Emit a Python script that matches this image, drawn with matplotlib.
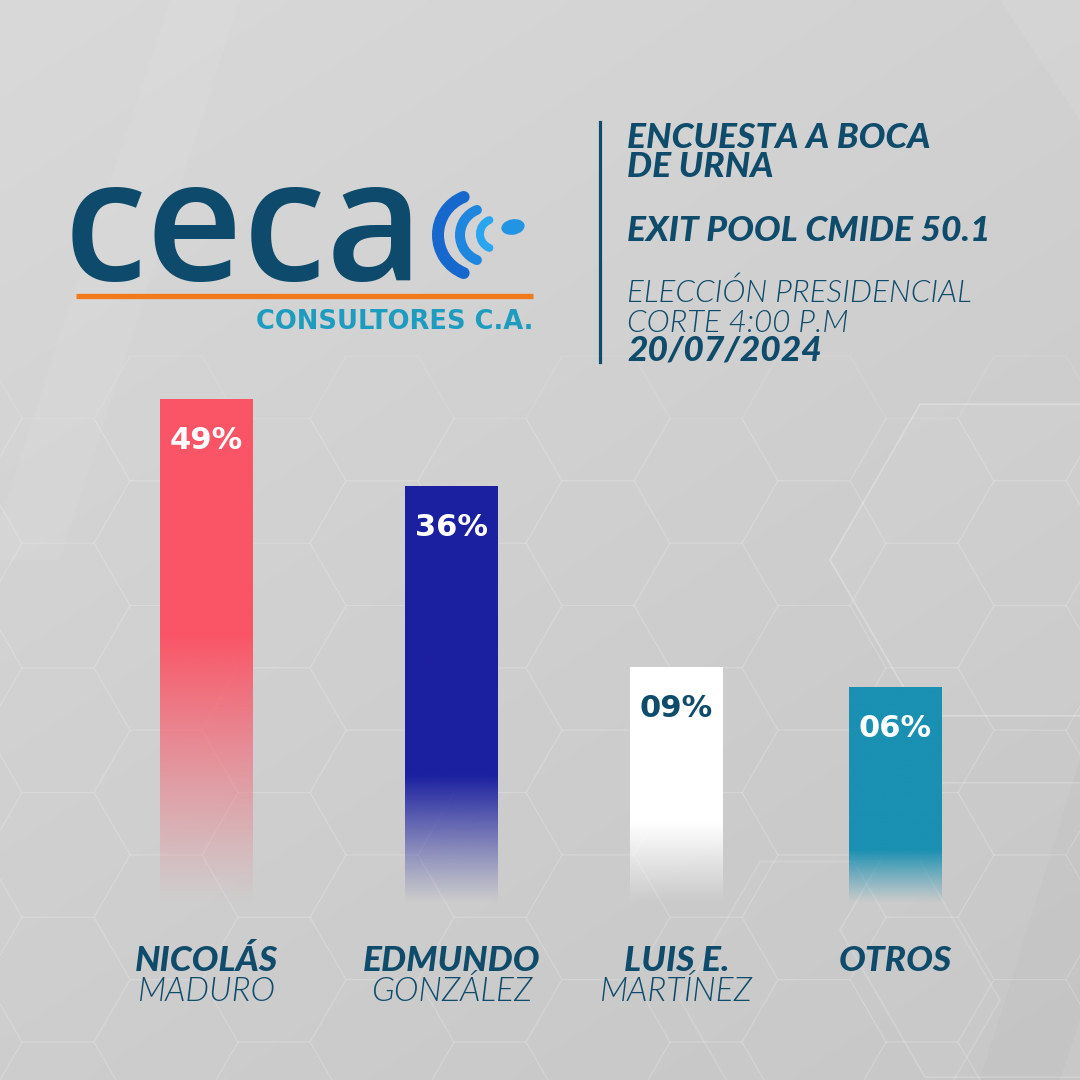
import numpy as np
import matplotlib
matplotlib.use("Agg")
import matplotlib.pyplot as plt
from matplotlib.patches import Arc, Ellipse, RegularPolygon, Polygon
import matplotlib.colors as mcolors

# ---------------- data ----------------
first_names = ["NICOLÁS", "EDMUNDO", "LUIS E.", "OTROS"]
last_names = ["MADURO", "GONZÁLEZ", "MARTÍNEZ", ""]
values = [49, 36, 9, 6]
title_lines = ["ENCUESTA A BOCA", "DE URNA"]
subtitle = "EXIT POOL CMIDE 50.1"
info_lines = ["ELECCIÓN PRESIDENCIAL", "CORTE 4:00 P.M"]
date_text = "20/07/2024"
logo_text = "ceca"
logo_sub = "CONSULTORES C.A."

# ---------------- style / layout ----------------
bar_colors = ["#fa5566", "#1b20a0", "#ffffff", "#1a90b2"]
label_colors = ["#ffffff", "#ffffff", "#0f4b6b", "#ffffff"]
bar_x = [206.5, 451.5, 676.5, 895.5]
bar_w = 93
fade_len = [40, 19, 12, 8]
dark = "#0f4b6b"
FONT = ["Lato", "DejaVu Sans"]

W = H = 1080
fig = plt.figure(figsize=(10.8, 10.8), dpi=100)

# background
bg = fig.add_axes([0, 0, 1, 1])
bg.set_xlim(0, W)
bg.set_ylim(H, 0)
bg.axis("off")
yy, xx = np.mgrid[0:1:200j, 0:1:200j]
t = np.clip(0.6 * yy + 0.4 * xx, 0, 1)
c0 = np.array(mcolors.to_rgb("#d9d9d9"))
c1 = np.array(mcolors.to_rgb("#c6c6c6"))
img = c0[None, None, :] * (1 - t[..., None]) + c1[None, None, :] * t[..., None]
bg.imshow(img, extent=(0, W, H, 0), aspect="auto", interpolation="bilinear", zorder=0)

# subtle diagonal streaks
for pts, col, a in [([(170, 0), (240, 0), (60, 560), (0, 560), (0, 520)], "white", 0.06),
                    ([(980, 1080), (1060, 1080), (1080, 1020), (1080, 760)], "#9a9a9a", 0.08),
                    ([(1000, 0), (1080, 0), (1080, 120)], "white", 0.08)]:
    bg.add_patch(Polygon(pts, closed=True, fc=col, ec="none", alpha=a, zorder=1))

# flat-top hexagon grid (lower part)
R = 72
hh = np.sqrt(3) * R
for col in range(-1, 11):
    cx = 58 + col * 1.5 * R
    for row in range(-1, 8):
        cy = 605.5 - 2 * hh + row * hh + (hh / 2 if col % 2 else 0)
        if cy < 400:
            continue
        bg.add_patch(RegularPolygon((cx, cy), 6, radius=R, orientation=np.pi / 6,
                                    fill=False, ec="white", lw=1.0, alpha=0.10, zorder=1))
# larger hexagons on the right
for (cx, cy, r, a) in [(1010, 560, 180, 0.26), (1010, 930, 170, 0.18), (840, 1000, 160, 0.15)]:
    bg.add_patch(RegularPolygon((cx, cy), 6, radius=r, orientation=np.pi / 6,
                                fill=True, fc="white", ec="none", alpha=a * 0.2, zorder=1))
    bg.add_patch(RegularPolygon((cx, cy), 6, radius=r, orientation=np.pi / 6,
                                fill=False, ec="white", lw=1.3, alpha=a, zorder=1))

# ---------------- logo ----------------
bg.text(64, 280, logo_text, fontsize=121, family=["Open Sans", "DejaVu Sans"],
        fontweight="semibold", color="#0d4a6b", ha="left", va="baseline", zorder=5)
arcs = [((479, 235), 82, 12, "#1668cc"), ((487, 235), 54, 10, "#1e86de"), ((495, 234), 30, 8, "#2aa6f0")]
for (c, d, lwpx, col) in arcs:
    bg.add_patch(Arc(c, d, d, theta1=112, theta2=248, lw=lwpx * 0.72, color=col, zorder=5,
                     capstyle="round"))
bg.add_patch(Ellipse((513, 227), 22, 14, angle=-10, color="#2294e4", zorder=5))
bg.plot([76, 533], [296, 296], color="#f07a1c", lw=3.8, solid_capstyle="butt", zorder=5)
bg.text(533, 329, logo_sub, fontsize=18.5, family=["DejaVu Sans"], fontweight="bold",
        color="#1e9cc0", ha="right", va="baseline", zorder=5)

# ---------------- right header ----------------
bg.plot([600, 600], [122, 362], color=dark, lw=2.3, zorder=5)
hx = 627
head_kw = dict(fontsize=25.5, family=FONT, fontweight=900, style="italic",
               color=dark, ha="left", va="baseline", zorder=5)
light_kw = dict(fontsize=22.5, family=FONT, fontweight=300, style="italic",
                color=dark, ha="left", va="baseline", zorder=5)
bg.text(hx, 148, title_lines[0], **head_kw)
bg.text(hx, 177, title_lines[1], **head_kw)
bg.text(hx, 241, subtitle, **head_kw)
bg.text(hx, 302, info_lines[0], **light_kw)
bg.text(hx, 332, info_lines[1], **light_kw)
bg.text(hx, 361, date_text, **head_kw)

# ---------------- bars ----------------
ax = fig.add_axes([0, 170 / 1080, 1, 530 / 1080])
ax.patch.set_alpha(0)
base = -27.3
bars = ax.bar(bar_x, [v - base for v in values], bottom=base, width=bar_w,
              color="none", edgecolor="none")
for rect, col, fl in zip(bars, bar_colors, fade_len):
    x0, w = rect.get_x(), rect.get_width()
    y0, h = rect.get_y(), rect.get_height()
    ys = np.linspace(y0, y0 + h, 300)
    a = np.clip((ys - y0 - 1.0) / fl, 0, 1) ** 1.1
    rgba = np.zeros((300, 1, 4))
    rgba[..., :3] = mcolors.to_rgb(col)
    rgba[:, 0, 3] = a
    ax.imshow(rgba, extent=(x0, x0 + w, y0, y0 + h), origin="lower", aspect="auto",
              interpolation="bilinear", zorder=3)
for x, v, lc in zip(bar_x, values, label_colors):
    ax.annotate(f"{v:02d}%", (x, v), xytext=(0, -29.5), textcoords="offset points",
                ha="center", va="center", fontsize=22, family=["DejaVu Sans"], fontweight="bold",
                color=lc, zorder=4)
ax.set_xlim(0, W)
ax.set_ylim(base, 51.9)
ax.axis("off")

# candidate labels
for x, fn, ln in zip(bar_x, first_names, last_names):
    bg.text(x, 971, fn, fontsize=25.5, family=FONT, fontweight=900, style="italic",
            color=dark, ha="center", va="baseline", zorder=5)
    if ln:
        bg.text(x, 1001, ln, fontsize=24, family=FONT, fontweight=300, style="italic",
                color=dark, ha="center", va="baseline", zorder=5)

fig.savefig("out.png", dpi=100)
